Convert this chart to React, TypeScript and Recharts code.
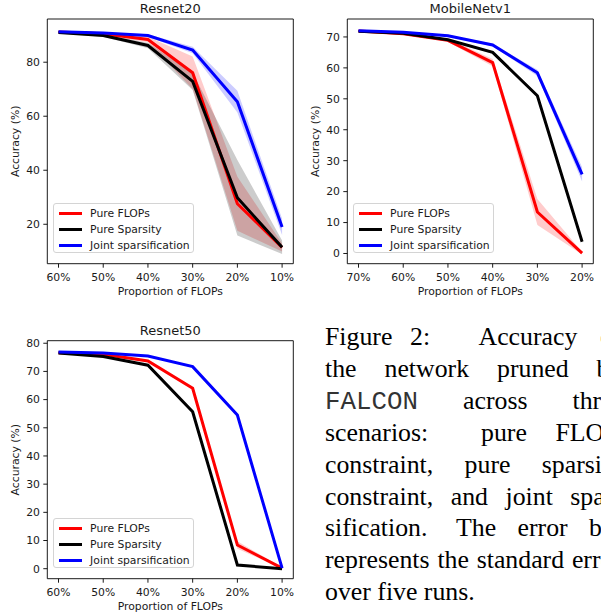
import React from 'react';
import { ComposedChart, Line, Area, XAxis, YAxis, Legend } from 'recharts';

// Resnet20
const r20Cats = ['60%', '50%', '40%', '30%', '20%', '10%'];
const r20Flops = [91.2, 90.5, 88.4, 76.1, 27.6, 11.4];
const r20FlopsErr = [0.4, 0.5, 1.0, 6.0, 10.0, 1.5];
const r20Sparsity = [91.0, 89.9, 86.2, 72.9, 29.8, 11.5];
const r20SparsityErr = [0.4, 0.5, 1.0, 3.2, 14.0, 2.5];
const r20Joint = [91.3, 90.8, 89.9, 84.5, 65.4, 19.0];
const r20JointErr = [0.3, 0.3, 0.5, 1.2, 4.0, 3.0];
const r20Ticks = [20, 40, 60, 80];

// MobileNetv1
const mbCats = ['70%', '60%', '50%', '40%', '30%', '20%'];
const mbFlops = [71.9, 71.0, 68.9, 61.7, 13.4, 0.1];
const mbFlopsErr = [0.3, 0.3, 0.5, 1.2, 4.2, 0.4];
const mbSparsity = [71.8, 71.2, 69.1, 65.0, 51.0, 3.8];
const mbSparsityErr = [0.2, 0.2, 0.3, 0.4, 0.6, 0.5];
const mbJoint = [72.0, 71.5, 70.4, 67.4, 58.4, 25.6];
const mbJointErr = [0.2, 0.2, 0.3, 0.4, 1.0, 2.3];
const mbTicks = [0, 10, 20, 30, 40, 50, 60, 70];

// Resnet50
const r50Cats = ['60%', '50%', '40%', '30%', '20%', '10%'];
const r50Flops = [76.6, 76.1, 73.7, 64.0, 8.4, 0.2];
const r50FlopsErr = [0.2, 0.2, 0.3, 0.4, 1.3, 0.2];
const r50Sparsity = [76.5, 75.3, 72.2, 55.7, 1.3, 0.0];
const r50SparsityErr = [0.2, 0.2, 0.2, 0.3, 0.3, 0.1];
const r50Joint = [76.9, 76.5, 75.5, 71.7, 54.5, 0.2];
const r50JointErr = [0.2, 0.2, 0.2, 0.3, 0.4, 0.1];
const r50Ticks = [0, 10, 20, 30, 40, 50, 60, 70, 80];

const seriesNames = ['Pure FLOPs', 'Pure Sparsity', 'Joint sparsification'];
const seriesColors = ['#ff0000', '#000000', '#0000ff'];

// caption words: [text, x, baseline, mono], local to the caption box (page x - 300)
const captionWords: [string, number, number, boolean?][] = [
  ['Figure', 25, 45], ['2:', 110, 45], ['Accuracy', 178.5, 45], ['of', 300, 45],
  ['the', 25, 76.9], ['network', 84.5, 76.9], ['pruned', 197, 76.9], ['by', 296.5, 76.9],
  ['FALCON', 25, 108.8, true], ['across', 163, 108.8], ['three', 272.5, 108.8],
  ['scenarios:', 25, 140.7], ['pure', 181, 140.7], ['FLOPs', 255.5, 140.7],
  ['constraint,', 25, 172.6], ['pure', 164.6, 172.6], ['sparsity', 241.8, 172.6],
  ['constraint,', 25, 204.5], ['and', 150.7, 204.5], ['joint', 205.5, 204.5], ['spar-', 270.3, 204.5],
  ['sification.', 25, 236.4], ['The', 156, 236.4], ['error', 217.5, 236.4], ['bar', 289, 236.4],
  ['represents', 25, 268.3], ['the', 137.4, 268.3], ['standard', 176.7, 268.3], ['error', 271.9, 268.3],
  ['over five runs.', 25, 300.2],
];

const FONT = 'DejaVu Sans, sans-serif';
const PLOT_X = 47.3;
const PLOT_W = 246;
const XAXIS_H = 36.3;

const buildRows = (cats: string[], vals: number[][], errs: number[][]) =>
  cats.map((c, i) => {
    const row: any = { name: c };
    vals.forEach((v, k) => {
      row[`s${k}`] = v[i];
      row[`b${k}`] = [v[i] - errs[k][i], v[i] + errs[k][i]];
    });
    return row;
  });

const LegendBox = () => (
  <div
    style={{
      width: 141,
      height: 50,
      boxSizing: 'border-box',
      border: '1px solid #d4d4d4',
      borderRadius: 3,
      background: 'rgba(255,255,255,0.8)',
      padding: '1px 0 0 5px',
      fontFamily: FONT,
      fontSize: 10.8,
      color: '#1a1a1a',
    }}
  >
    {seriesNames.map((n, i) => (
      <div key={n} style={{ display: 'flex', alignItems: 'center', height: 16.3 }}>
        <div style={{ width: 23, height: 3, background: seriesColors[i], marginRight: 8.6 }} />
        <span>{n}</span>
      </div>
    ))}
  </div>
);

type PanelProps = {
  title: string;
  cats: string[];
  vals: number[][];
  errs: number[][];
  domain: [number, number];
  ticks: number[];
  height: number;
  top: number;
};

function Panel({ title, cats, vals, errs, domain, ticks, height, top }: PanelProps) {
  const rows = buildRows(cats, vals, errs);
  const plotBottom = height - XAXIS_H;
  return (
    <ComposedChart
      width={300}
      height={height}
      data={rows}
      margin={{ top: top - 1, right: 300 - PLOT_X - PLOT_W - 1, bottom: 0, left: 0 }}
    >
      <XAxis
        dataKey="name"
        height={XAXIS_H}
        padding={{ left: 11.2, right: 11.2 }}
        stroke="#000"
        strokeWidth={0.9}
        tickSize={4}
        tickMargin={5.5}
        tick={{ fontSize: 10.8, fontFamily: FONT, fill: '#1a1a1a' }}
        interval={0}
        label={{ value: 'Proportion of FLOPs', position: 'insideBottom', offset: 5.4, fontSize: 10.8, fontFamily: FONT, fill: '#1a1a1a' }}
      />
      {/* top and right axes only draw the frame */}
      <XAxis
        xAxisId="frame"
        orientation="top"
        dataKey="name"
        height={1}
        stroke="#000"
        strokeWidth={0.9}
        tick={false}
        tickLine={false}
        label={{ value: title, position: 'top', offset: 5, fontSize: 13, fontFamily: FONT, fill: '#1a1a1a' }}
      />
      <YAxis
        type="number"
        domain={domain}
        ticks={ticks}
        allowDataOverflow
        width={PLOT_X}
        stroke="#000"
        strokeWidth={0.9}
        tickSize={4}
        tickMargin={3.4}
        tick={{ fontSize: 10.8, fontFamily: FONT, fill: '#1a1a1a' }}
        label={{ value: 'Accuracy (%)', angle: -90, position: 'insideLeft', offset: 15, fontSize: 10.8, fontFamily: FONT, fill: '#1a1a1a', style: { textAnchor: 'middle' } }}
      />
      <YAxis yAxisId="frame" orientation="right" width={1} stroke="#000" strokeWidth={0.9} tick={false} tickLine={false} />
      {[0, 1, 2].map((k) => (
        <Area
          key={`band${k}`}
          dataKey={`b${k}`}
          type="linear"
          stroke="none"
          fill={seriesColors[k]}
          fillOpacity={0.2}
          isAnimationActive={false}
          legendType="none"
        />
      ))}
      {[0, 1, 2].map((k) => (
        <Line
          key={`line${k}`}
          dataKey={`s${k}`}
          type="linear"
          stroke={seriesColors[k]}
          strokeWidth={3}
          dot={false}
          isAnimationActive={false}
        />
      ))}
      <Legend
        layout="vertical"
        align="center"
        verticalAlign="middle"
        content={() => <LegendBox />}
        wrapperStyle={{ left: 52.5, top: plotBottom - 60.5, width: 141, height: 50 }}
      />
    </ComposedChart>
  );
}

export default function App() {
  return (
    <div style={{ position: 'absolute', left: 0, top: 0, width: 601, height: 615, overflow: 'hidden', background: '#fff' }}>
      <div style={{ position: 'absolute', left: 0, top: 0 }}>
        <Panel
          title="Resnet20"
          cats={r20Cats}
          vals={[r20Flops, r20Sparsity, r20Joint]}
          errs={[r20FlopsErr, r20SparsityErr, r20JointErr]}
          domain={[5.4, 96]}
          ticks={r20Ticks}
          height={300}
          top={19}
        />
      </div>
      <div style={{ position: 'absolute', left: 300, top: 0 }}>
        <Panel
          title="MobileNetv1"
          cats={mbCats}
          vals={[mbFlops, mbSparsity, mbJoint]}
          errs={[mbFlopsErr, mbSparsityErr, mbJointErr]}
          domain={[-3.3, 75.8]}
          ticks={mbTicks}
          height={300}
          top={19}
        />
      </div>
      <div style={{ position: 'absolute', left: 0, top: 300 }}>
        <Panel
          title="Resnet50"
          cats={r50Cats}
          vals={[r50Flops, r50Sparsity, r50Joint]}
          errs={[r50FlopsErr, r50SparsityErr, r50JointErr]}
          domain={[-3.55, 80.9]}
          ticks={r50Ticks}
          height={315}
          top={40.7}
        />
      </div>
      <svg style={{ position: 'absolute', left: 300, top: 300 }} width={301} height={315}>
        {captionWords.map(([w, x, y, mono], i) => (
          <text
            key={i}
            x={x}
            y={y}
            fontSize={25.8}
            fontFamily={mono ? 'Liberation Mono, monospace' : 'Liberation Serif, serif'}
            fill={mono ? '#333' : '#000'}
          >
            {w}
          </text>
        ))}
      </svg>
    </div>
  );
}
